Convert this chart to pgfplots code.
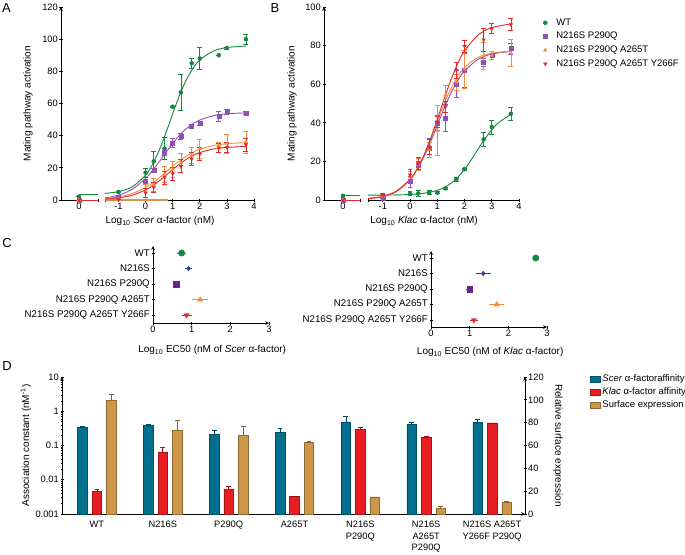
\documentclass[border=0pt]{standalone}
\usepackage{fontspec}
\setmainfont{Liberation Sans}
\usepackage{pgfplots}
\pgfplotsset{compat=1.18}
\definecolor{cgreen}{RGB}{20,135,65}
\definecolor{cpurple}{RGB}{145,80,180}
\definecolor{corange}{RGB}{245,140,55}
\definecolor{cred}{RGB}{230,40,40}
\definecolor{cblue}{RGB}{45,60,165}
\definecolor{cdpurple}{RGB}{105,35,150}
\definecolor{dteal}{RGB}{0,112,142}
\definecolor{dred}{RGB}{232,30,35}
\definecolor{dtan}{RGB}{205,150,72}
\newcommand\fs{\fontsize{9.3}{11}\selectfont}
\newcommand\fsc{\fontsize{9.7}{11}\selectfont}
\newcommand\fsb{\fontsize{9.5}{11}\selectfont}
\newcommand\fsl{\fontsize{9.3}{11.8}\selectfont}
\pgfplotsset{
  base/.style={scale only axis, clip=false,
    axis line style={-, line width=0.7pt, black},
    tick style={line width=0.7pt, black},
    tick align=outside, major tick length=3pt, minor tick length=1.8pt,
    tick label style={font=\fs}, label style={font=\fs},
    /pgf/number format/assume math mode=true,
    xticklabel style={inner sep=1.5pt}, yticklabel style={inner sep=1.5pt}},
  curve/.style={line width=0.9pt, smooth, forget plot},
  pts/.style={only marks, mark size=2pt, forget plot,
    error bars/y dir=both, error bars/y explicit,
    error bars/error bar style={line width=0.6pt},
    error bars/error mark options={rotate=90, mark size=2.4pt, line width=0.6pt}},
  ptsx/.style={only marks, forget plot,
    error bars/x dir=both, error bars/x explicit,
    error bars/error bar style={line width=0.6pt},
    error bars/error mark options={mark size=2.4pt, line width=0.6pt}},
  dbar/.style={ybar, bar width=9.5pt, bar shift=0pt, fill=#1, draw=#1!70!black, line width=0.5pt,
    error bars/y dir=plus, error bars/y explicit,
    error bars/error bar style={line width=0.6pt, #1!65!black},
    error bars/error mark options={rotate=90, mark size=2.4pt, line width=0.6pt, #1!65!black}},
}
\begin{document}
\begin{tikzpicture}
\useasboundingbox (0pt,0pt) rectangle (685pt,-554pt);
\node[font=\fontsize{13}{13}\selectfont] at (6.5pt,-8.5pt) {A};
\node[font=\fontsize{13}{13}\selectfont] at (275pt,-8.5pt) {B};
\node[font=\fontsize{13}{13}\selectfont] at (7pt,-243pt) {C};
\node[font=\fontsize{13}{13}\selectfont] at (7pt,-366pt) {D};

% ---------------- A ----------------
\begin{axis}[base, at={(61pt,-200pt)}, anchor=south west, width=193pt, height=193pt,
  xmin=-3.12, xmax=4, ymin=0, ymax=120,
  axis lines=left, x axis line style={draw=none},
  xtick={-2.46,-1,0,1,2,3,4}, xticklabels={0,-1,0,1,2,3,4},
  extra x ticks={-1.76,-1.5}, extra x tick labels={},
  ytick={0,20,...,120},
  xlabel={Log\textsubscript{10} \textit{Scer} α-factor (nM)},
  ylabel={Mating pathway activation},
  every axis x label/.style={at={(axis description cs:0.513,-0.11)}, anchor=center},
  every axis y label/.style={at={(axis description cs:-0.171,0.5)}, rotate=90, anchor=center}]
\draw[line width=0.7pt] (axis cs:-3.12,0) -- (axis cs:-1.76,0);
\draw[line width=0.7pt] (axis cs:-1.5,0) -- (axis cs:4,0);
\addplot[forget plot, dtan, line width=1.4pt] coordinates {(-1.5,0) (0.83,0)};
\addplot[forget plot, cred, line width=1pt] coordinates {(-2.46,0) (-1.76,0)};
\addplot[forget plot, cgreen, line width=0.9pt] coordinates {(-2.46,3.5) (-1.76,3.5)};
\addplot[curve, cgreen] coordinates {(-1.5,4.11)(-1,5.20)(-0.5,8.13)(0,15.47)(0.25,21.96)(0.5,30.8)(0.75,41.7)(1,53.6)(1.25,65.0)(1.5,74.6)(1.75,81.9)(2,87.1)(2.5,92.6)(3,94.8)(3.7,95.7)};
\addplot[curve, cpurple] coordinates {(-1.5,1.30)(-1,2.98)(-0.5,6.57)(0,13.4)(0.25,18.2)(0.5,23.7)(0.75,29.6)(1,35.2)(1.25,40.2)(1.5,44.3)(1.75,47.4)(2,49.7)(2.5,52.4)(3,53.6)(3.7,54.2)};
\addplot[curve, corange] coordinates {(-1.5,0.86)(-1,1.88)(-0.5,3.94)(0,7.78)(0.25,10.5)(0.5,13.7)(0.75,17.3)(1,20.9)(1.25,24.3)(1.5,27.2)(1.75,29.6)(2,31.5)(2.5,33.8)(3,35.0)(3.7,35.7)};
\addplot[curve, cred] coordinates {(-1.5,0.57)(-1,1.32)(-0.5,2.97)(0,6.27)(0.25,8.77)(0.5,11.8)(0.75,15.3)(1,18.9)(1.25,22.3)(1.5,25.3)(1.75,27.7)(2,29.5)(2.5,31.7)(3,32.7)(3.7,33.3)};
\addplot[pts, cgreen, mark=*] coordinates {(-2.46,2)+-(0,0) (-1,5)+-(0,0) (0,17)+-(0,3) (0.3,24)+-(0,6) (0.7,32)+-(0,7) (1,58)+-(0,0.5) (1.3,67)+-(0,11) (1.7,85)+-(0,3) (2,88)+-(0,7) (2.7,90)+-(0,0) (3,94.5)+-(0,0.5) (3.7,100)+-(0,3)};
\addplot[pts, cpurple, mark=square*] coordinates {(-2.46,0)+-(0,0) (-1,1.5)+-(0,0) (0,11.4)+-(0,1) (0.3,18.5)+-(0,1.5) (0.7,30)+-(0,2) (1,35.5)+-(0,3) (1.3,39.6)+-(0,2) (1.7,45.6)+-(0,1) (2,47.7)+-(0,1.5) (2.7,52)+-(0,3) (3,55)+-(0,1.5) (3.7,54)+-(0,1)};
\addplot[pts, corange, mark=triangle*] coordinates {(-2.46,0)+-(0,0) (-1,0.5)+-(0,0) (0,5)+-(0,5) (0.3,9.5)+-(0,4) (0.7,15.8)+-(0,5) (1,19)+-(0,5) (1.3,23)+-(0,6) (1.7,27.6)+-(0,5) (2,32)+-(0,6) (2.7,34)+-(0,2) (3,35)+-(0,6) (3.7,36)+-(0,7)};
\addplot[pts, cred, mark=triangle*, mark options={rotate=180}] coordinates {(-2.46,0)+-(0,0) (-1,0.3)+-(0,0) (0,4.5)+-(0,3) (0.3,7.9)+-(0,3) (0.7,14)+-(0,4) (1,16.4)+-(0,4) (1.3,21)+-(0,4) (1.7,25.5)+-(0,4) (2,28.6)+-(0,4) (2.7,32.4)+-(0,3) (3,32.8)+-(0,3) (3.7,34.4)+-(0,4)};
\end{axis}

% ---------------- B ----------------
\begin{axis}[base, at={(324pt,-200pt)}, anchor=south west, width=195pt, height=193pt,
  xmin=-3.16, xmax=4, ymin=0, ymax=100,
  axis lines=left, x axis line style={draw=none},
  xtick={-2.46,-1,0,1,2,3,4}, xticklabels={0,-1,0,1,2,3,4},
  extra x ticks={-1.84,-1.54}, extra x tick labels={},
  ytick={0,20,...,100},
  xlabel={Log\textsubscript{10} \textit{Klac} α-factor (nM)},
  ylabel={Mating pathway activation},
  every axis x label/.style={at={(axis description cs:0.513,-0.11)}, anchor=center},
  every axis y label/.style={at={(axis description cs:-0.164,0.5)}, rotate=90, anchor=center},
  legend style={at={(axis description cs:1.103,0.953)}, anchor=north west, draw=none, fill=none,
    font=\fsb, nodes={inner sep=0pt, text height=7pt, text depth=2pt, anchor=west}, row sep=4.7pt},
  legend cell align=left,
  legend image code/.code={\path[draw=none] (-3pt,0pt) -- (11pt,0pt); \draw[#1] plot coordinates {(0pt,0pt)};}]
\draw[line width=0.7pt] (axis cs:-3.16,0) -- (axis cs:-1.84,0);
\draw[line width=0.7pt] (axis cs:-1.54,0) -- (axis cs:4,0);
\addplot[forget plot, cred, line width=1pt] coordinates {(-2.46,0) (-1.84,0)};
\addplot[forget plot, cgreen, line width=0.9pt] coordinates {(-2.46,2.5) (-1.84,2.5)};
\addplot[curve, cgreen] coordinates {(-1.54,2.55)(-1,2.55)(-0.5,2.64)(0,2.87)(0.5,3.48)(1,5.0)(1.25,6.47)(1.5,8.63)(1.7,11.0)(2,15.8)(2.25,20.9)(2.5,26.4)(2.7,30.7)(3,36.4)(3.25,40.1)(3.7,44.4)};
\addplot[curve, cpurple] coordinates {(-1.54,0.77)(-1,1.90)(-0.5,4.60)(0,10.6)(0.25,15.6)(0.5,22.1)(0.75,30.0)(1,38.75)(1.25,47.5)(1.5,55.4)(1.75,61.9)(2,66.9)(2.5,72.9)(3,75.6)(3.7,77.0)};
\addplot[curve, corange] coordinates {(-1.54,0.64)(-1,1.67)(-0.5,4.29)(0,10.4)(0.25,15.7)(0.5,22.7)(0.75,31.3)(1,40.6)(1.25,49.8)(1.5,57.8)(1.75,64.1)(2,68.7)(2.5,73.9)(3,76.1)(3.7,77.1)};
\addplot[curve, cred] coordinates {(-1.54,0.76)(-1,1.88)(-0.5,4.59)(0,10.7)(0.25,15.9)(0.5,22.9)(0.75,31.7)(1,41.8)(1.25,52.3)(1.5,62.2)(1.75,70.7)(2,77.3)(2.5,85.5)(3,89.3)(3.7,91.2)};
\addplot[pts, cgreen, mark=*] coordinates {(-2.46,2.2)+-(0,1) (-1,2.5)+-(0,0) (0,3.3)+-(0,1) (0.3,3.4)+-(0,1.5) (0.7,3.8)+-(0,1) (1,3.8)+-(0,0.5) (1.3,6)+-(0,0.5) (1.7,10.9)+-(0,1) (2,16)+-(0,0.5) (2.7,31.4)+-(0,3.5) (3,37.8)+-(0,3.5) (3.7,44.7)+-(0,3.5)};
\addplot[pts, cpurple, mark=square*] coordinates {(-2.46,0)+-(0,0) (-1,1)+-(0,0) (0,9.5)+-(0,3) (0.3,18)+-(0,2) (0.7,27)+-(0,5) (1,40)+-(0,4) (1.3,42.6)+-(0,7) (1.7,60)+-(0,7) (2,67.2)+-(0,9) (2.7,71.2)+-(0,2) (3,74.8)+-(0,2) (3.7,78.4)+-(0,3)};
\addplot[pts, corange, mark=triangle*] coordinates {(-2.46,0)+-(0,0) (-1,2)+-(0,0) (0,12)+-(0,3) (0.3,18.5)+-(0,3) (0.7,26)+-(0,4) (1,36)+-(0,13) (1.3,54.3)+-(0,5) (1.7,61)+-(0,4) (2,67.8)+-(0,10) (2.7,74.5)+-(0,7) (3,75)+-(0,2) (3.7,76.2)+-(0,7)};
\addplot[pts, cred, mark=triangle*, mark options={rotate=180}] coordinates {(-2.46,0)+-(0,0) (-1,2.5)+-(0,1) (0,13)+-(0,3) (0.3,19)+-(0,3) (0.7,27.6)+-(0,4) (1,40.5)+-(0,3) (1.3,48.3)+-(0,3) (1.7,67.2)+-(0,4) (2,79.7)+-(0,3) (2.7,83)+-(0,6) (3,88.8)+-(0,2.5) (3.7,90.9)+-(0,3)};
\addlegendimage{only marks, mark=*, cgreen, mark size=2pt}
\addlegendentry{WT}
\addlegendimage{only marks, mark=square*, cpurple, mark size=2pt}
\addlegendentry{N216S P290Q}
\addlegendimage{only marks, mark=triangle*, corange, mark size=2pt}
\addlegendentry{N216S P290Q A265T}
\addlegendimage{only marks, mark=triangle*, mark options={rotate=180}, cred, mark size=2pt}
\addlegendentry{N216S P290Q A265T Y266F}
\end{axis}

% ---------------- C left ----------------
\begin{axis}[base, at={(153pt,-323pt)}, anchor=south west, width=116pt, height=77pt,
  xmin=0, xmax=3, ymin=0.5, ymax=5.45, axis lines=left,
  xtick={0,1,2,3}, ytick={1,...,5}, yticklabel style={font=\fsc},
  yticklabels={N216S P290Q A265T Y266F,N216S P290Q A265T,N216S P290Q,N216S,WT},
  xlabel={Log\textsubscript{10} EC50 (nM of \textit{Scer} α-factor)},
  every axis x label/.style={at={(axis description cs:0.51,-0.35)}, anchor=center}]
\addplot[ptsx, cgreen, mark=*, mark size=3.2pt] coordinates {(0.74,5)+-(0.05,0)};
\addplot[ptsx, cblue, mark=diamond*, mark size=2.4pt] coordinates {(0.92,4)+-(0.03,0)};
\addplot[ptsx, cdpurple, mark=square*, mark size=2.8pt] coordinates {(0.60,3)+-(0.02,0)};
\addplot[ptsx, corange, mark=triangle*, mark size=3pt] coordinates {(1.22,2)+-(0.15,0)};
\addplot[ptsx, cred, mark=triangle*, mark options={rotate=180}, mark size=3pt] coordinates {(0.87,1)+-(0.07,0)};
\end{axis}

% ---------------- C right ----------------
\begin{axis}[base, at={(431pt,-327pt)}, anchor=south west, width=116pt, height=76pt,
  xmin=0, xmax=3, ymin=0.55, ymax=5.45, axis lines=left,
  xtick={0,1,2,3}, ytick={1,...,5}, yticklabel style={font=\fsc},
  yticklabels={N216S P290Q A265T Y266F,N216S P290Q A265T,N216S P290Q,N216S,WT},
  xlabel={Log\textsubscript{10} EC50 (nM of \textit{Klac} α-factor)},
  every axis x label/.style={at={(axis description cs:0.51,-0.33)}, anchor=center}]
\addplot[ptsx, cgreen, mark=*, mark size=3.2pt] coordinates {(2.71,5)+-(0.02,0)};
\addplot[ptsx, cblue, mark=diamond*, mark size=2.4pt] coordinates {(1.35,4)+-(0.13,0)};
\addplot[ptsx, cdpurple, mark=square*, mark size=2.8pt] coordinates {(1.0,3)+-(0.02,0)};
\addplot[ptsx, corange, mark=triangle*, mark size=3pt] coordinates {(1.70,2)+-(0.13,0)};
\addplot[ptsx, cred, mark=triangle*, mark options={rotate=180}, mark size=3pt] coordinates {(1.11,1)+-(0.05,0)};
\end{axis}

% ---------------- D (log, left) ----------------
\begin{axis}[base, at={(62pt,-514pt)}, anchor=south west, width=463pt, height=137pt,
  xmin=-0.53, xmax=6.5, ymode=log, ymin=0.001, ymax=10, log origin y=infty,
  axis x line=bottom, axis y line=left,
  xtick={0,...,6},
  xticklabels={WT,N216S,P290Q,A265T,{N216S\\P290Q},{N216S\\A265T\\P290Q},{N216S A265T\\Y266F P290Q}},
  every major x tick/.append style={draw=none},
  xticklabel style={align=center, font=\fsl, anchor=north, yshift=-3.5pt},
  ytick={0.001,0.01,0.1,1,10}, yticklabels={0.001,0.01,0.1,1,10},
  ylabel={Association constant (nM\textsuperscript{-1})},
  every axis y label/.style={at={(axis description cs:-0.078,0.5)}, rotate=90, anchor=center}]
\addplot[dbar=dteal]
  coordinates {(-0.22,0.34)+=(0,0.012) (0.78,0.39)+=(0,0.015) (1.78,0.215)+=(0,0.065) (2.78,0.24)+=(0,0.08) (3.78,0.49)+=(0,0.24) (4.78,0.42)+=(0,0.07) (5.78,0.47)+=(0,0.1)};
\addplot[dbar=dred]
  coordinates {(0,0.0046)+=(0,0.0005) (1,0.065)+=(0,0.023) (2,0.0054)+=(0,0.0009) (3,0.0033)+=(0,0.0001) (4,0.295)+=(0,0.045) (5,0.172)+=(0,0.018) (6,0.46)+=(0,0.0)};
\end{axis}

% ---------------- D (linear, right) ----------------
\begin{axis}[base, at={(62pt,-514pt)}, anchor=south west, width=463pt, height=137pt,
  xmin=-0.53, xmax=6.5, ymin=0, ymax=120,
  axis x line=none, axis y line=right,
  ytick={0,20,...,120},
  ylabel={Relative surface expression},
  every axis y label/.style={at={(axis description cs:1.071,0.5)}, rotate=-90, anchor=center},
  legend style={at={(axis description cs:1.134,1.033)}, anchor=north west, draw=none, fill=none,
    font=\fsb, nodes={inner sep=0pt, text height=6.8pt, text depth=1.8pt, anchor=west}, row sep=4.4pt},
  legend cell align=left,
  legend image code/.code={\draw[#1] (0pt,-2.8pt) rectangle (10pt,2.8pt); \path[draw=none] (12pt,0pt);}]
\addplot[forget plot, dbar=dtan]
  coordinates {(0.22,100)+=(0,5) (1.22,73.6)+=(0,8.5) (2.22,69)+=(0,7.5) (3.22,63)+=(0,0.5) (4.22,15)+=(0,0) (5.22,5)+=(0,2) (6.22,10.2)+=(0,1.3)};
\addlegendimage{fill=dteal, draw=dteal!70!black}
\addlegendentry{\textit{Scer} α-factoraffinity}
\addlegendimage{fill=dred, draw=dred!70!black}
\addlegendentry{\textit{Klac} α-factor affinity}
\addlegendimage{fill=dtan, draw=dtan!70!black}
\addlegendentry{Surface expression}
\end{axis}
\end{tikzpicture}
\end{document}
